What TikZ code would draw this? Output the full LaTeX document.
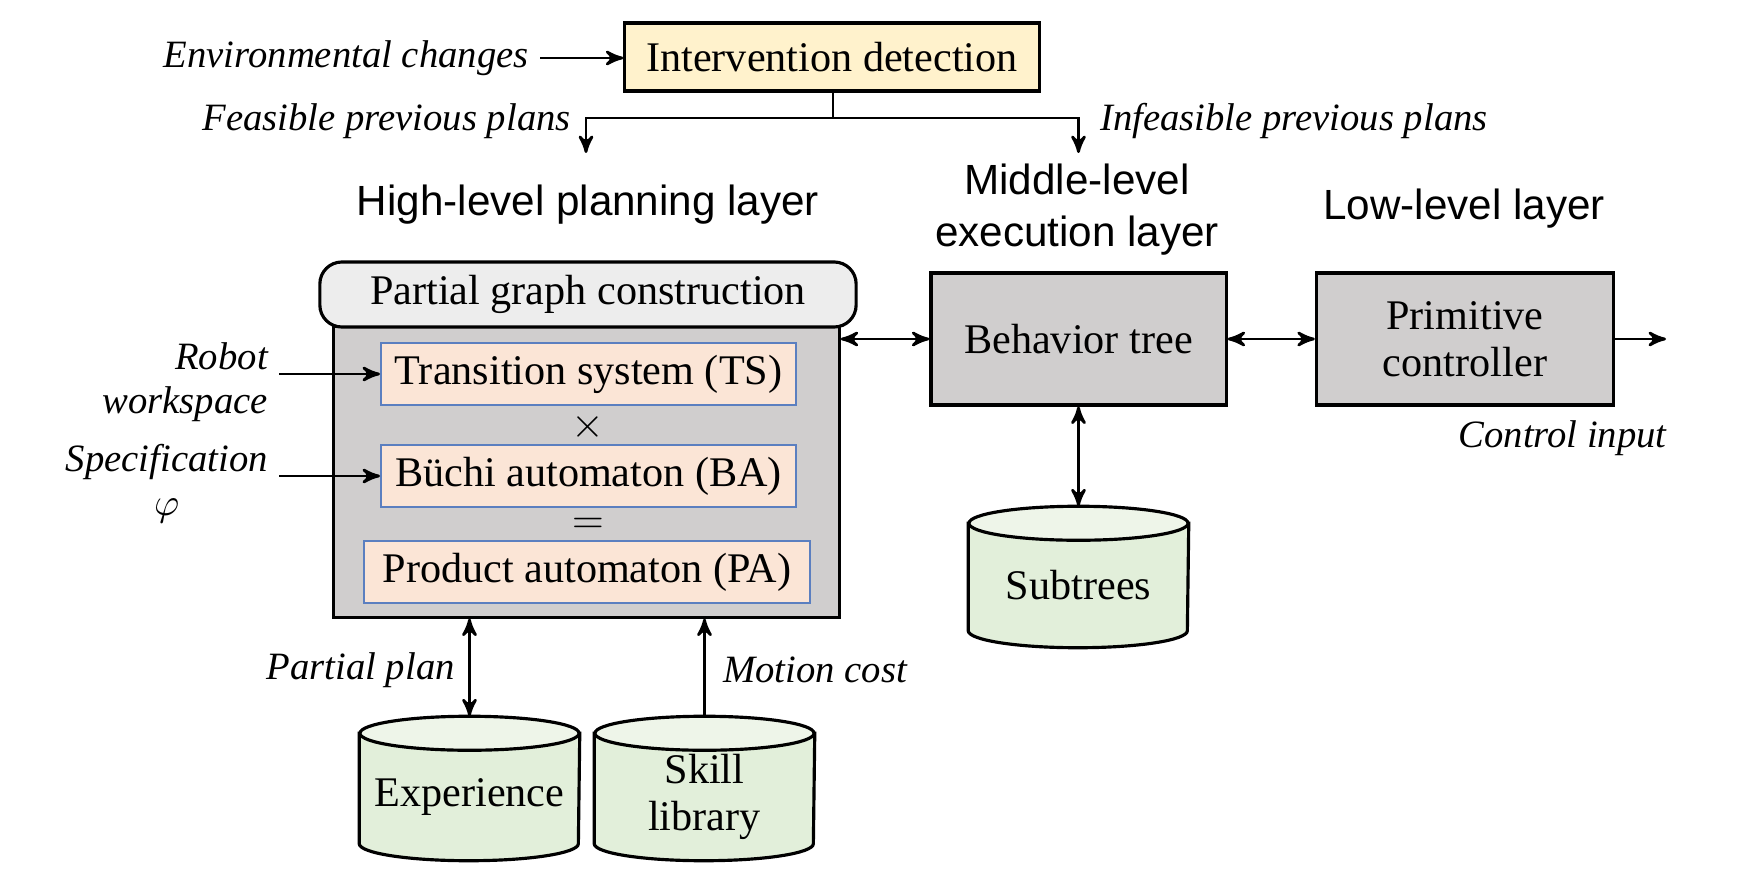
\documentclass[tikz,border=0pt]{standalone}
\usepackage{fontspec}
\setmainfont{Liberation Serif}
\setsansfont{Liberation Sans}
\usepackage{tikz}
\usetikzlibrary{arrows}
\usetikzlibrary{backgrounds}
\definecolor{detfill}{HTML}{FFF2CC}
\definecolor{headfill}{HTML}{EDEDED}
\definecolor{blockfill}{HTML}{D0CECE}
\definecolor{innerfill}{HTML}{FBE5D6}
\definecolor{innerline}{HTML}{5B7FC0}
\definecolor{storefill}{HTML}{E2EFDA}
\definecolor{storetopfill}{HTML}{EEF5E9}
\tikzset{
  >=stealth',
  boxfont/.style={font=\fontsize{12}{13.4}\selectfont},
  detect/.style={
    draw, line width=0.9pt, fill=detfill, boxfont,
    minimum width=4.14cm, minimum height=0.68cm
  },
  block/.style={draw, line width=0.9pt, fill=blockfill, align=center, boxfont},
  header/.style={
    draw, line width=0.9pt, fill=headfill, rounded corners=0.22cm, boxfont,
    minimum width=5.36cm, minimum height=0.65cm
  },
  innerbox/.style={
    draw=innerline, line width=0.5pt, fill=innerfill, boxfont,
    minimum width=4.15cm, minimum height=0.57cm
  },
  sym/.style={inner sep=0pt, boxfont},
  note/.style={font=\fontsize{11}{12.5}\selectfont\itshape, inner sep=3pt},
  layer/.style={font=\fontsize{12}{14.8}\selectfont\sffamily, align=center},
  store/.style={
    minimum width=2.19cm, minimum height=1.26cm, inner sep=0pt,
    align=center, boxfont
  },
  storebody/.style={fill=storefill, draw, line width=0.9pt},
  storetop/.style={fill=storetopfill, draw, line width=0.9pt},
  link/.style={line width=0.8pt}
}
\begin{document}
\begin{tikzpicture}[x=0.01cm, y=-0.01cm]
    \useasboundingbox (0,0) rectangle (1756,894);

    % intervention detection and the two branches
    \node [detect] (det) at (832,57) {Intervention detection};
    \node [note, anchor=east] (env) at (540,58) {Environmental changes};
    \draw [link, ->] (env.east) -- (env.east -| det.west);

    \coordinate (split)     at ( 833,118);
    \coordinate (feasEnd)   at ( 586,153);
    \coordinate (infeasEnd) at (1078.5,153);

    \draw [link] (det.south -| split) -- (split);
    \draw [link, ->] (split) -| (feasEnd);
    \draw [link, ->] (split) -| (infeasEnd);
    \node [note, anchor=east] (feas)   at ( 582,121) {Feasible previous plans};
    \node [note, anchor=west] (infeas) at (1089,121) {Infeasible previous plans};

    % layer titles
    \node [layer] (highT) at ( 588,205) {High-level planning layer};
    \node [layer] (midT)  at (1077,210) {Middle-level\\execution layer};
    \node [layer] (lowT)  at (1464,209) {Low-level layer};

    % high-level planning block
    \node [block, minimum width=5.05cm, minimum height=2.9cm] (plan) at (586.5,472) {};
    \node [header] (pgc) at (588,294.5) {Partial graph construction};
    \node [innerbox] (ts) at (588.5,374) {Transition system (TS)};
    \node [sym] (times) at (588,427) {$\times$};
    \node [innerbox, minimum height=0.58cm] (ba) at (588.5,476) {B\"uchi automaton (BA)};
    \node [sym] (eq) at (588,526) {$=$};
    \node [innerbox, minimum width=4.45cm] (pa) at (587,572) {Product automaton (PA)};

    \node [note, anchor=east, align=right] (robot) at (279,382) {Robot\\workspace};
    \draw [link, ->] (robot.east |- ts.west) -- (ts.west);
    \node [note, anchor=east, align=center] (spec) at (279,484) {Specification\\$\varphi$};
    \draw [link, ->] (spec.east |- ba.west) -- (ba.west);

    % middle and low level
    \node [block, minimum width=2.95cm, minimum height=1.32cm] (bt) at (1078.5,339) {Behavior tree};
    \node [block, minimum width=2.97cm, minimum height=1.32cm] (pc) at (1465,339) {Primitive\\controller};
    \draw [link, <->] (bt.west) -- (bt.west -| plan.east);
    \draw [link, <->] (bt) -- (pc);
    \coordinate (ctrlEnd) at (1666,339);
    \draw [link, ->] (pc.east) -- (ctrlEnd);
    \node [note, anchor=east] (ctrl) at (1678,438) {Control input};

    % data stores
    \node [store, minimum height=1.23cm] (sub) at (1078.5,585.5) {Subtrees};
    \node [store] (exp) at (469.5,797) {Experience};
    \node [store] (skl) at (704.5,797) {Skill\\library};

    \begin{scope}[on background layer]
      \foreach \s in {sub,exp,skl} {
        \filldraw [storebody] (\s.north west) -- ([yshift=0.17cm]\s.south west)
          arc [start angle=180, end angle=360, x radius=1.095cm, y radius=0.17cm]
          -- (\s.north east) -- cycle;
        \filldraw [storetop] (\s.north) ellipse [x radius=1.095cm, y radius=0.17cm];
      }
    \end{scope}

    \draw [link, <->] (bt.south) -- ([yshift=0.17cm]sub.north);
    \draw [link, <->] ([yshift=0.17cm]exp.north) -- (exp.north |- plan.south);
    \draw [link, ->] ([yshift=0.17cm]skl.north) -- (skl.north |- plan.south);
    \node [note, anchor=east] (ppl) at (466,670) {Partial plan};
    \node [note, anchor=west] (mcost) at (712,670) {Motion cost};
\end{tikzpicture}
\end{document}
